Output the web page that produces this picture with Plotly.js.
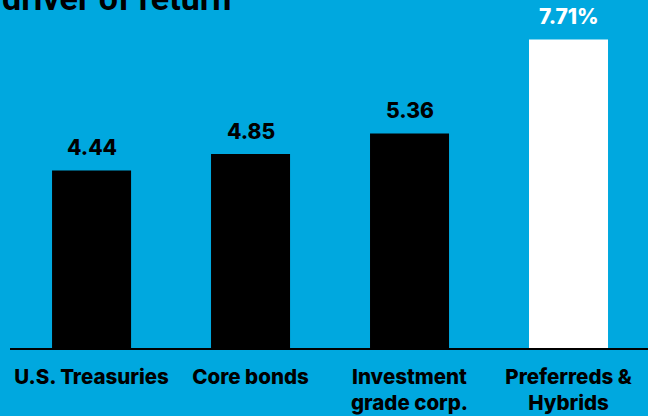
<!DOCTYPE html>
<html>
<head>
<meta charset="utf-8">
<script src="https://cdn.plot.ly/plotly-3.0.1.min.js"></script>
<style>html,body{margin:0;padding:0;background:#00A8DF;}#chart{width:648px;height:416px;}</style>
</head>
<body>
<div id="chart"></div>
<script>
const categories = ["U.S. Treasuries", "Core bonds", "Investment<br>grade corp.", "Preferreds &<br>Hybrids"];
const values = [4.44, 4.85, 5.36, 7.71];
const valueLabels = ["4.44", "4.85", "5.36", "7.71%"];
const barColors = ["#000000", "#000000", "#000000", "#ffffff"];
const labelColors = ["#000000", "#000000", "#000000", "#ffffff"];
const titleText = "driver of return<sup>1</sup>";

const xs = categories.map((c, i) => i);

const annotations = values.map((v, i) => ({
  x: i, y: v, xref: "x", yref: "y",
  text: valueLabels[i],
  showarrow: false, yanchor: "middle", yshift: 23,
  font: {family: "Inter, Roboto, sans-serif", size: 21, weight: 800, color: labelColors[i]}
}));
annotations.push({
  xref: "paper", yref: "paper", x: -0.016, y: 0.9425, xanchor: "left", yanchor: "bottom",
  text: titleText, showarrow: false,
  font: {family: "Roboto, Arial, sans-serif", size: 34, weight: 700, color: "#000000"}
});

Plotly.newPlot("chart", [{
  type: "bar",
  x: xs,
  y: values,
  width: 0.497,
  marker: {color: barColors, line: {width: 0}},
  hoverinfo: "none"
}], {
  width: 648, height: 416,
  margin: {l: 10, r: 0, t: 0, b: 68},
  paper_bgcolor: "#00A8DF",
  plot_bgcolor: "#00A8DF",
  showlegend: false,
  xaxis: {
    range: [-0.513, 3.5],
    tickmode: "array", tickvals: xs, ticktext: categories,
    showline: true, linecolor: "#000000", linewidth: 2,
    showgrid: false, zeroline: false, ticks: "",
    ticklabelstandoff: 9,
    tickfont: {family: "Inter, Roboto, sans-serif", size: 20.5, weight: 800, color: "#000000"}
  },
  yaxis: {
    range: [0, 8.7], visible: false, showgrid: false, zeroline: false
  },
  annotations: annotations
}, {staticPlot: true, displayModeBar: false});
</script>
</body>
</html>
